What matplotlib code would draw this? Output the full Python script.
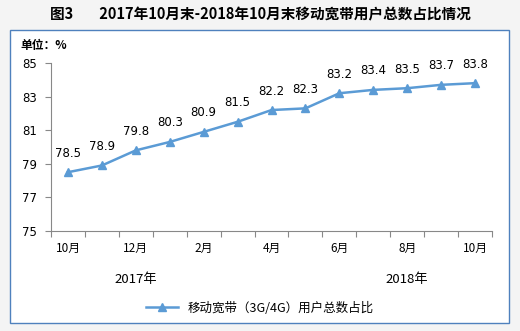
import matplotlib.pyplot as plt
from matplotlib.patches import Rectangle

plt.rcParams['font.family'] = ['Noto Sans CJK SC', 'DejaVu Sans']

months = ['10月', '11月', '12月', '1月', '2月', '3月', '4月', '5月', '6月', '7月', '8月', '9月', '10月']
share = [78.5, 78.9, 79.8, 80.3, 80.9, 81.5, 82.2, 82.3, 83.2, 83.4, 83.5, 83.7, 83.8]
yticks = [75, 77, 79, 81, 83, 85]
years = [('2017年', 2), ('2018年', 10)]

blue = '#5b9bd5'

fig = plt.figure(figsize=(5.2, 3.31), dpi=100)
fig.patch.set_facecolor('#f4f4f4')
# white chart box with blue frame, behind the axes
fig.patches.append(Rectangle((10/520, 1-323/331), 499/520, 293/331, transform=fig.transFigure,
                             facecolor='white', edgecolor='#4f81bd', linewidth=1, zorder=-10))
fig.text(0.5, 1-14/331, '图3        2017年10月末-2018年10月末移动宽带用户总数占比情况',
         ha='center', va='center', fontsize=10.5, fontweight='bold')
fig.text(20/520, 1-46/331, '单位：%', ha='left', va='center', fontsize=8.5, fontweight='bold')

ax = fig.add_axes([51/520, 1-231/331, 441/520, 168/331])
ax.set_facecolor('none')
x = list(range(len(share)))
ax.plot(x, share, color=blue, linewidth=1.8, marker='^', markersize=6, label='移动宽带（3G/4G）用户总数占比')
for xi, v in zip(x, share):
    ax.annotate(f'{v}', (xi, v), xytext=(0, 9), textcoords='offset points',
                ha='center', va='bottom', fontsize=8.5, family='DejaVu Sans')

ax.set_xlim(-0.5, len(share) - 0.5)
ax.set_ylim(75, 85)
ax.set_yticks(yticks)
ax.set_yticklabels([str(t) for t in yticks], fontsize=8.5, family='DejaVu Sans')
ax.set_xticks([i - 0.5 for i in range(len(share) + 1)])
ax.set_xticklabels([])
ax.set_xticks(x[::2], minor=True)
ax.set_xticklabels(months[::2], minor=True, fontsize=8.5)
ax.tick_params(axis='x', which='minor', length=0, pad=8)
ax.tick_params(axis='x', which='major', length=4, color='#888888')
ax.tick_params(axis='y', length=4, color='#888888', pad=6)
for s in ['top', 'right']:
    ax.spines[s].set_visible(False)
for s in ['left', 'bottom']:
    ax.spines[s].set_color('#888888')

for label, pos in years:
    ax.text(pos, -0.29, label, transform=ax.get_xaxis_transform(), ha='center', va='center',
            fontsize=9.5, family='Noto Sans CJK SC')

fig.legend(loc='center', bbox_to_anchor=(0.5, 1-308/331), frameon=False, fontsize=9,
           handlelength=2.5)

fig.savefig('out.png', dpi=100, facecolor=fig.get_facecolor())
